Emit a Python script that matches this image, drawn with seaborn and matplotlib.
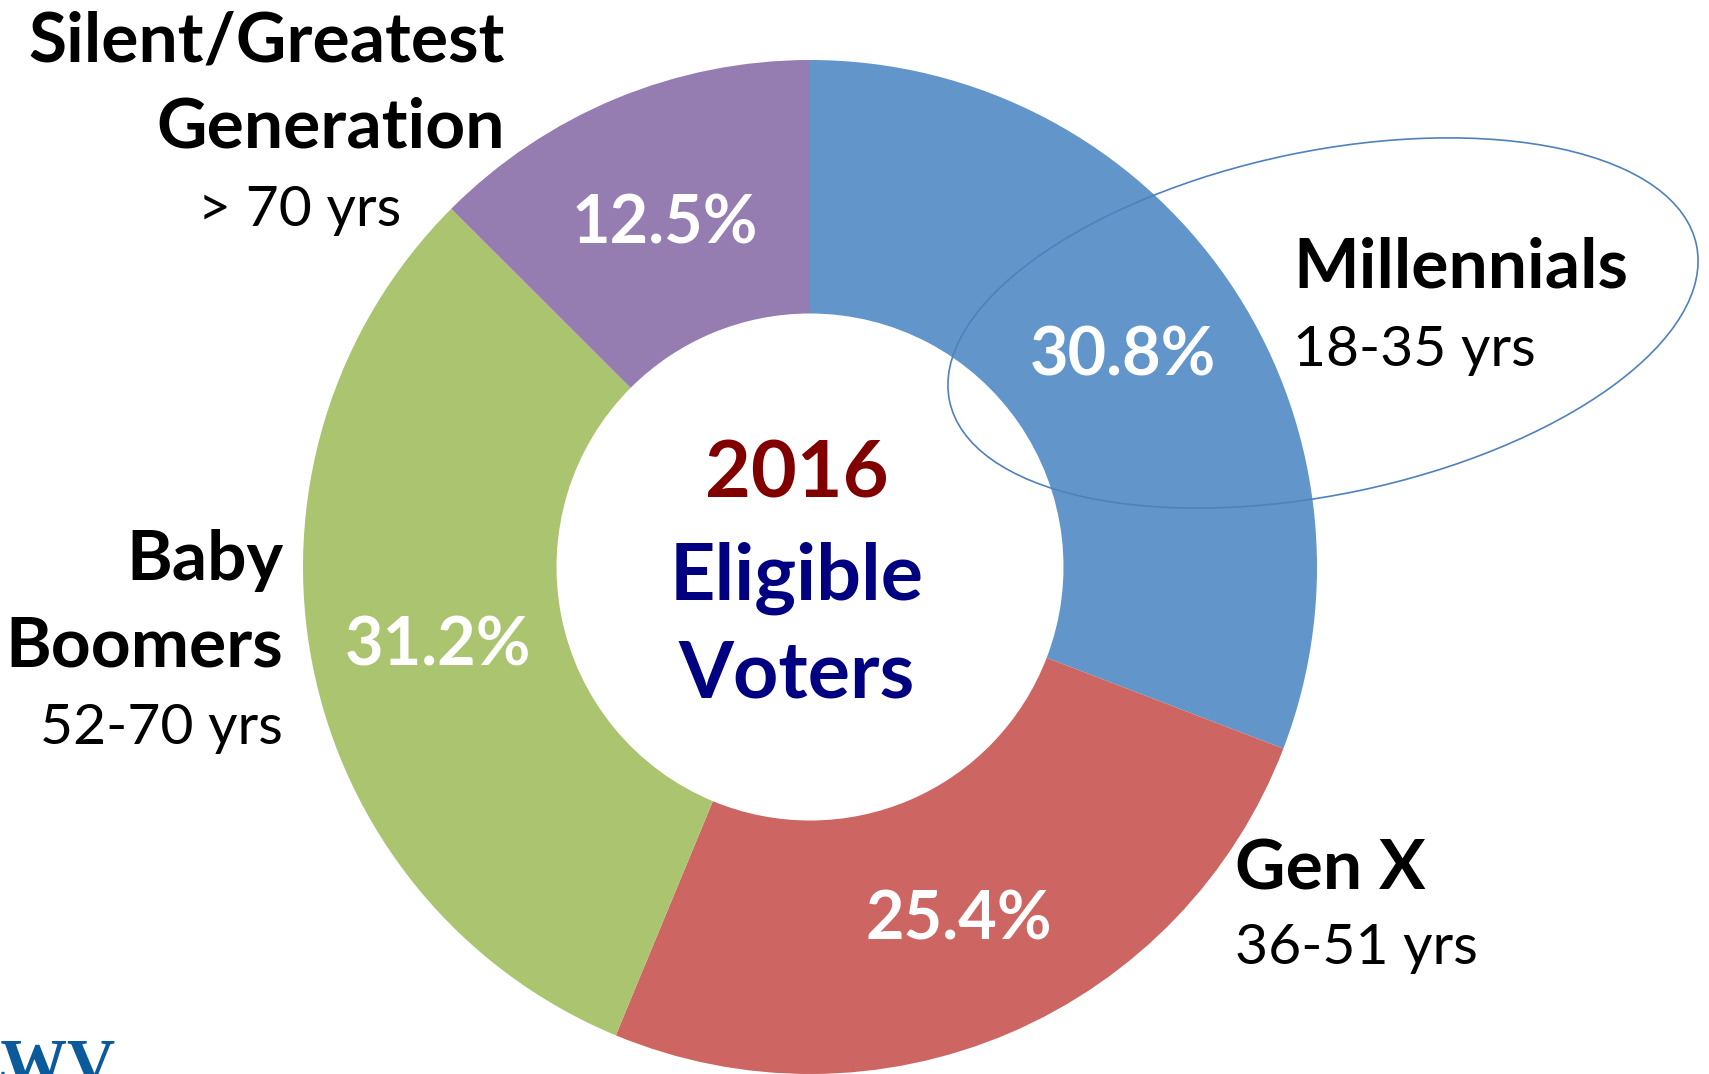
import matplotlib
matplotlib.use("Agg")
import matplotlib.pyplot as plt
import seaborn as sns
from matplotlib.patches import Ellipse

# ---- data ----
generations = ["Millennials", "Gen X", "Baby Boomers", "Silent/Greatest Generation"]
shares = [30.8, 25.4, 31.2, 12.5]
pct_labels = ["30.8%", "25.4%", "31.2%", "12.5%"]
age_ranges = ["18-35 yrs", "36-51 yrs", "52-70 yrs", "> 70 yrs"]
colors = ["#6295C9", "#CD6562", "#AAC46F", "#957CB1"]

sns.set_theme(style="white")
plt.rcParams["font.family"] = ["Lato", "DejaVu Sans"]

W, H = 1709, 1074
fig = plt.figure(figsize=(W / 100, H / 100), dpi=100)
ax = fig.add_axes([0, 0, 1, 1])

def Y(p):
    return H - p

cx, cy, R = 810, Y(567), 507
wedges, _ = ax.pie(shares, colors=colors, startangle=90, counterclock=False,
                   center=(cx, cy), radius=R,
                   wedgeprops=dict(width=R * 0.5, edgecolor="none"))
ax.set_xlim(0, W)
ax.set_ylim(0, H)
ax.set_aspect("auto")
ax.axis("off")

# ellipse highlight around Millennials
ax.add_patch(Ellipse((1323, Y(323)), 763, 343, angle=11.8, fill=False,
                     edgecolor="#4F81BD", lw=1.2, zorder=5))

# percentage labels
pct_pos = [(1123, 356), (959, 920), (438, 646), (665, 224)]
for (x, y), t in zip(pct_pos, pct_labels):
    ax.text(x, Y(y), t, color="white", fontsize=48, fontweight="bold",
            ha="center", va="center", zorder=6)

# centre text
ax.text(797, Y(476), "2016", color="#800000", fontsize=57, fontweight="bold", ha="center", va="center")
ax.text(797, Y(578), "Eligible", color="#000080", fontsize=57, fontweight="bold", ha="center", va="center")
ax.text(797, Y(676), "Voters", color="#000080", fontsize=57, fontweight="bold", ha="center", va="center")

# generation labels
bold = dict(color="black", fontsize=50, fontweight="bold", va="center")
reg = dict(color="black", fontsize=41, va="center")
ax.text(505, Y(42), "Silent/Greatest", ha="right", **bold)
ax.text(505, Y(128), "Generation", ha="right", **bold)
ax.text(300, Y(210), age_ranges[3], ha="center", **reg)

ax.text(283, Y(560), "Baby", ha="right", **bold)
ax.text(283, Y(647), "Boomers", ha="right", **bold)
ax.text(283, Y(729), age_ranges[2], ha="right", **reg)

ax.text(1293, Y(268), generations[0], ha="left", **bold)
ax.text(1293, Y(350), age_ranges[0], ha="left", **reg)

ax.text(1235, Y(870), generations[1], ha="left", **bold)
ax.text(1235, Y(949), age_ranges[1], ha="left", **reg)

# partial logo (cut off at the bottom-left corner, as in the original)
ax.text(116, Y(1037), "LWV", ha="right", va="top", color="#0A5A9C",
        fontsize=48, fontweight="bold", family=["Liberation Serif", "DejaVu Serif"])

fig.savefig("out.png", dpi=100, facecolor="white")
